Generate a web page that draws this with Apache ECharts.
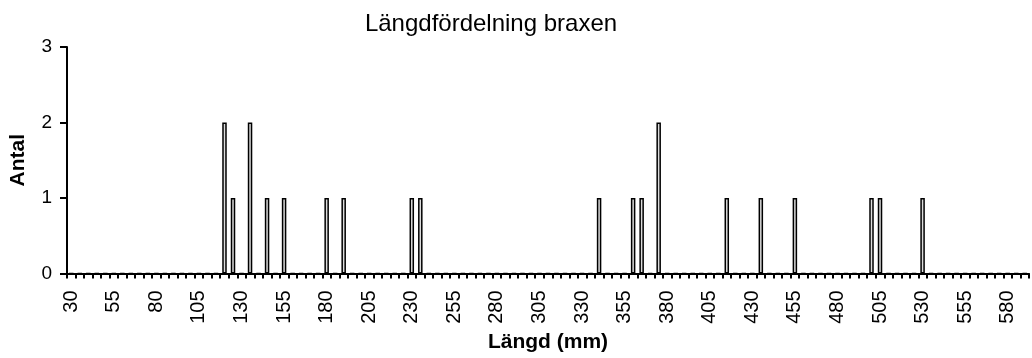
<!DOCTYPE html>
<html>
<head>
<meta charset="utf-8">
<script src="https://cdn.jsdelivr.net/npm/echarts@6/dist/echarts.min.js"></script>
<style>
html,body{margin:0;padding:0;background:#fff;}
#chart{width:1032px;height:358px;}
</style>
</head>
<body>
<div id="chart"></div>
<script>
// Length classes (mm) shown on the category axis
const categories = [30,35,40,45,50,55,60,65,70,75,80,85,90,95,100,105,110,115,120,125,130,135,140,145,150,155,160,165,170,175,180,185,190,195,200,205,210,215,220,225,230,235,240,245,250,255,260,265,270,275,280,285,290,295,300,305,310,315,320,325,330,335,340,345,350,355,360,365,370,375,380,385,390,395,400,405,410,415,420,425,430,435,440,445,450,455,460,465,470,475,480,485,490,495,500,505,510,515,520,525,530,535,540,545,550,555,560,565,570,575,580,585,590];
// Observed lengths and counts (Antal)
const lengths = [120,125,135,145,155,180,190,230,235,340,360,365,375,415,435,455,500,505,530];
const counts  = [2,1,2,1,1,1,1,1,1,1,1,1,2,1,1,1,1,1,1];
const yTicks = [0,1,2,3];

const values = categories.map(c => {
  const i = lengths.indexOf(c);
  return i >= 0 ? counts[i] : 0;
});

const chart = echarts.init(document.getElementById('chart'));
const FONT = 'Arial, "Liberation Sans", sans-serif';
chart.setOption({
  animation: false,
  backgroundColor: '#fff',
  title: {
    text: 'Längdfördelning braxen',
    left: 486,
    top: 7,
    textAlign: 'center',
    textStyle: {fontFamily: FONT, fontSize: 24, fontWeight: 'normal', color: '#000'}
  },
  grid: {left: 67, right: 3, top: 47, bottom: 84.5, containLabel: false},
  xAxis: {
    type: 'category',
    data: categories.map(String),
    boundaryGap: true,
    name: 'Längd (mm)',
    nameLocation: 'middle',
    nameGap: 58,
    nameTextStyle: {fontFamily: FONT, fontSize: 21, fontWeight: 'bold', color: '#000'},
    axisLine: {show: true, lineStyle: {color: '#000', width: 2}},
    axisTick: {show: true, interval: 0, alignWithLabel: false, length: 5, inside: false, lineStyle: {color: '#000', width: 2}},
    axisLabel: {interval: 4, rotate: 90, margin: 17, fontFamily: FONT, fontSize: 20, color: '#000'},
    splitLine: {show: false}
  },
  yAxis: {
    type: 'value',
    min: yTicks[0],
    max: yTicks[yTicks.length - 1],
    interval: 1,
    name: 'Antal',
    nameLocation: 'middle',
    nameGap: 38,
    nameTextStyle: {fontFamily: FONT, fontSize: 21, fontWeight: 'bold', color: '#000'},
    axisLine: {show: true, lineStyle: {color: '#000', width: 2}},
    axisTick: {show: true, length: 7, lineStyle: {color: '#000', width: 2}},
    axisLabel: {margin: 15, fontFamily: FONT, fontSize: 19, color: '#000'},
    splitLine: {show: false}
  },
  series: [{
    type: 'bar',
    data: values,
    barWidth: 4.5,
    itemStyle: {color: '#dcdcdc', borderColor: '#000', borderWidth: 1.5},
    emphasis: {disabled: true}
  }]
});
</script>
</body>
</html>
